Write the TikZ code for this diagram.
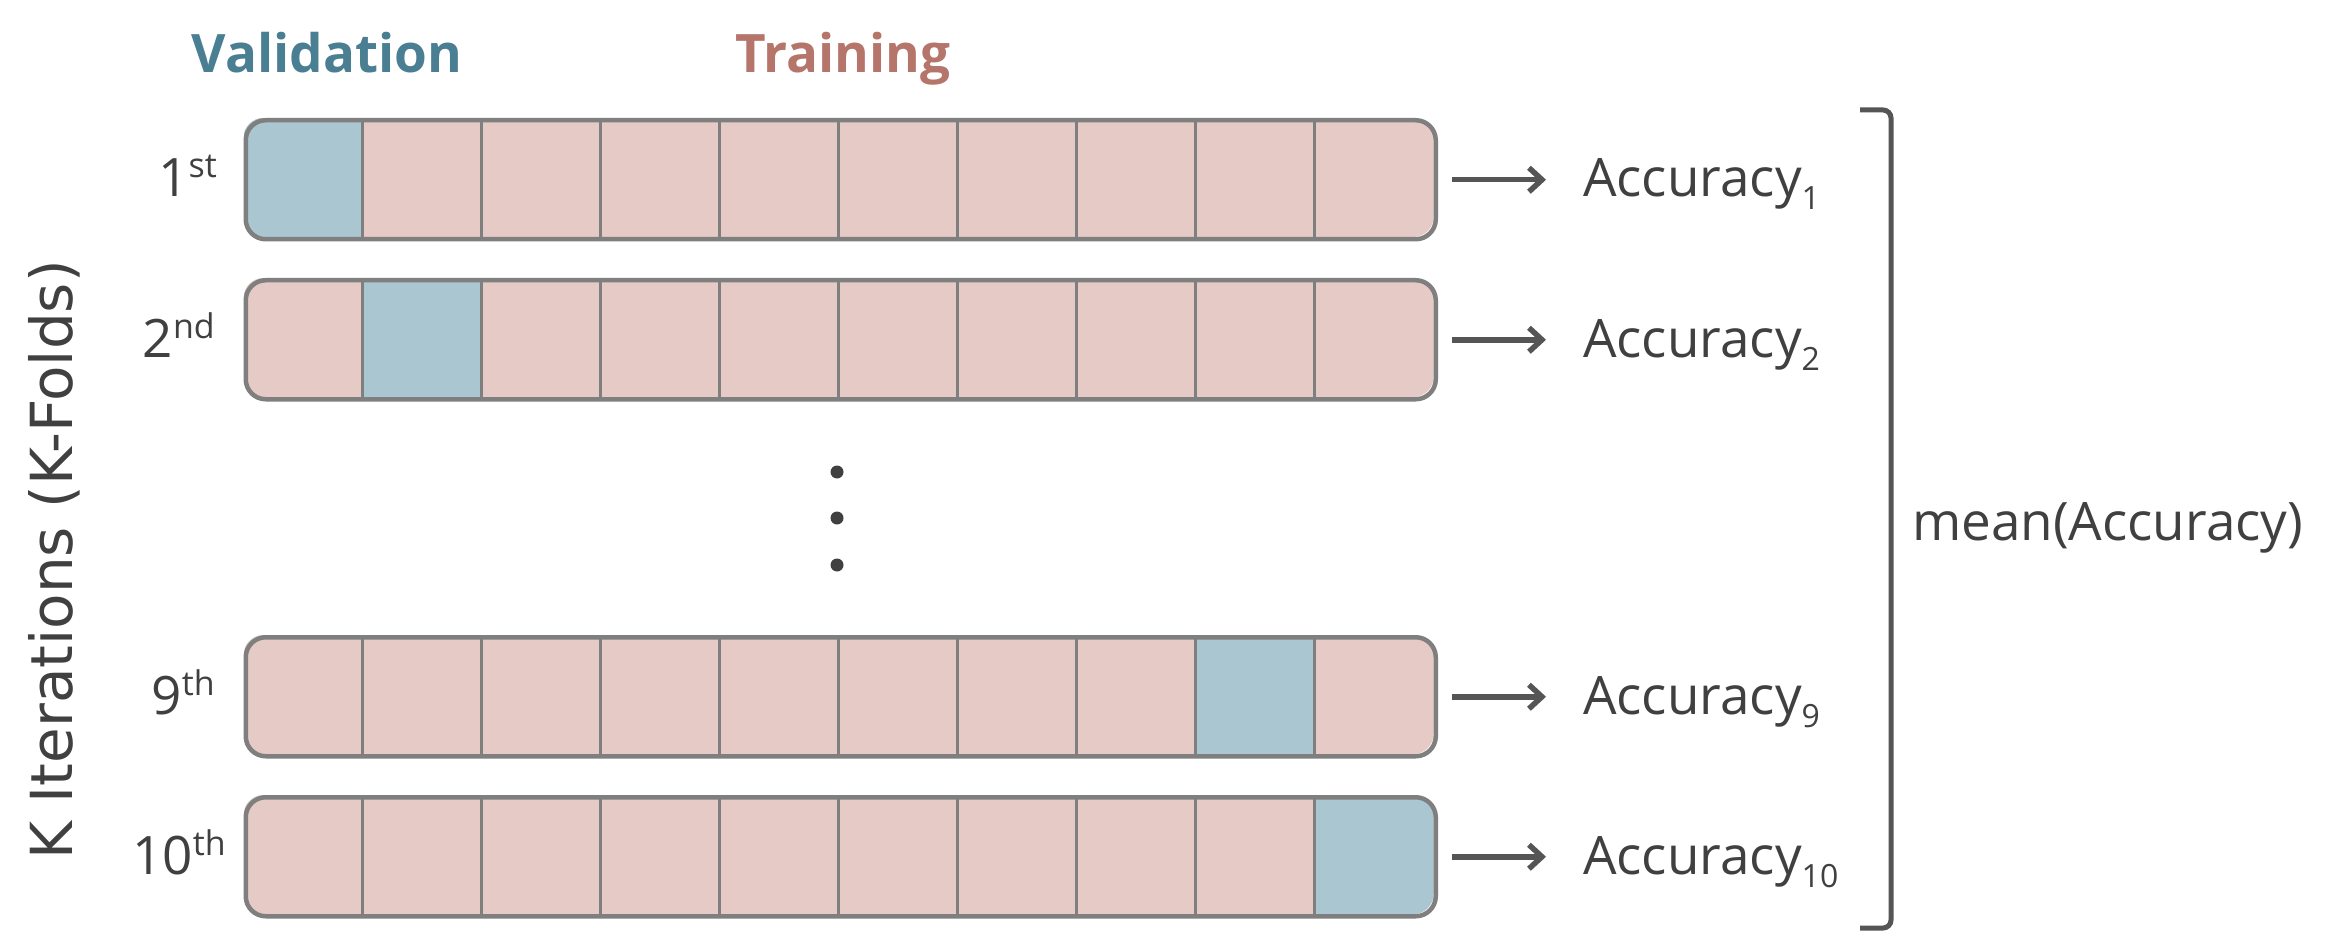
\documentclass[tikz,border=0pt]{standalone}
\usepackage{fontspec}
\setmainfont{Open Sans}
\newfontfamily\dejavu{DejaVu Sans}
\usetikzlibrary{arrows.meta,calc}
\definecolor{valfill}{HTML}{AAC6D1}
\definecolor{trfill}{HTML}{E5CAC5}
\definecolor{cellline}{HTML}{7F7F7F}
\definecolor{valtext}{HTML}{4A7E93}
\definecolor{trtext}{HTML}{B5756B}
\definecolor{ink}{HTML}{404040}
\definecolor{arrowc}{HTML}{555555}
\newcommand{\ordl}[2]{#1\raisebox{19pt}{\fontsize{34}{34}\selectfont #2}}
\newcommand{\accsub}[1]{Accuracy\raisebox{-13pt}{\fontsize{32}{32}\selectfont #1}}
\begin{document}
\begin{tikzpicture}[x=1pt,y=1pt,
  big/.style={font=\fontsize{53}{60}\selectfont, text=ink, inner sep=0pt},
  head/.style={font=\fontsize{53}{60}\selectfont\bfseries, inner sep=0pt, anchor=base},
  rowbox/.style={draw=cellline, line width=4.5pt, rounded corners=20pt, minimum width=1190pt, minimum height=119pt, inner sep=0pt, anchor=north west},
  arr/.style={draw=arrowc, line width=5.5pt, -{Straight Barb[length=13pt,width=24pt]}},
]
\useasboundingbox (0,0) rectangle (2337,-933);
\fill[white] (0,0) rectangle (2337,-933);
% headers
\node[head, text=valtext] (val) at (327,-73) {Validation};
\node[head, text=trtext] (tr) at (843,-73) {Training};
% rows
\foreach \r/\ry/\v in {1/118/0,2/278/1,9/635/8,10/795/9} {
  \begin{scope}
    \clip[rounded corners=20pt] (243.5,-\ry) rectangle ++(1190,-119);
    \fill[trfill] (243.5,-\ry) rectangle ++(1190,-119);
    \fill[valfill] ({243.5+\v*119},-\ry) rectangle ++(119,-119);
  \end{scope}
  \foreach \k in {1,...,9} \draw[cellline, line width=3.5pt] ({243.5+\k*119},-\ry) -- ++(0,-119);
  \node[rowbox] (row\r) at (243.5,-\ry) {};
}
% ordinal labels
\node[big, anchor=base east] (o1) at (217,-197) {\ordl{1}{st}};
\node[big, anchor=base east] (o2) at (215,-357) {\ordl{2}{nd}};
\node[big, anchor=base east] (o9) at (215,-714) {\ordl{9}{th}};
\node[big, anchor=base east] (o10) at (226,-874) {\ordl{10}{th}};
% accuracy labels
\node[big, anchor=base west] (acc1) at (1583,-197) {\accsub{1}};
\node[big, anchor=base west] (acc2) at (1583,-357) {\accsub{2}};
\node[big, anchor=base west] (acc9) at (1583,-714) {\accsub{9}};
\node[big, anchor=base west] (acc10) at (1583,-874) {\accsub{10}};
% arrows
\foreach \r in {1,2,9,10}
  \draw[arr] ([xshift=14pt]row\r.east) -- ([xshift=-37pt]row\r.east -| acc\r.west);
% dots
\foreach \yy in {472,518,565} \fill[ink] (837,-\yy) circle (6.5pt);
% bracket
\draw[arrowc, line width=5pt, rounded corners=8pt] (1860,-110) -- (1891,-110) -- (1891,-928) -- (1860,-928);
\node[big, anchor=base west] (mean) at (1912,-540) {mean(Accuracy)};
% side label
\node[font=\dejavu\fontsize{58}{64}\selectfont, text=ink, rotate=90, anchor=base, inner sep=0pt] (kit) at (72,-560) {K Iterations (K-Folds)};
\end{tikzpicture}
\end{document}
